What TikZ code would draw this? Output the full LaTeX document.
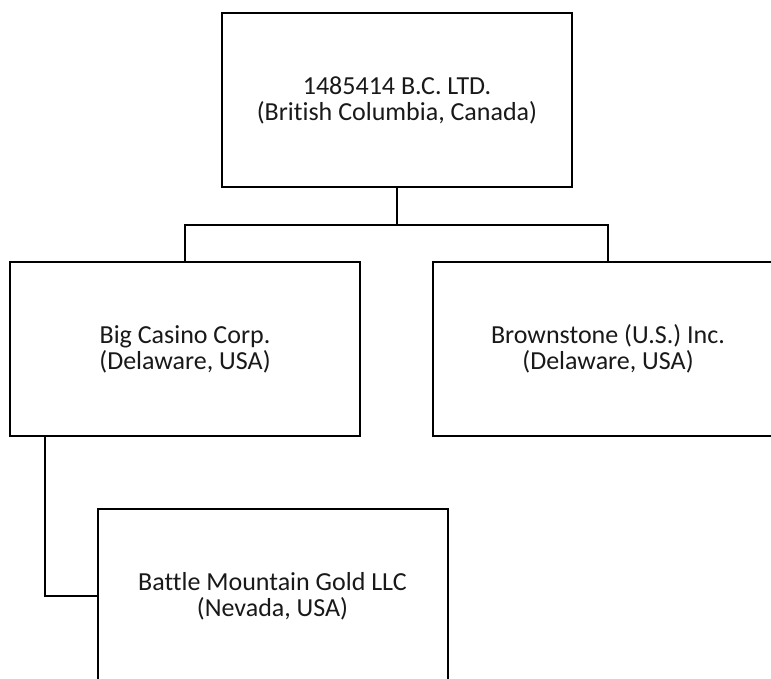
\documentclass[tikz,border=0pt]{standalone}
\usepackage{fontspec}
\setmainfont{Carlito}[Ligatures={NoCommon}]
\begin{document}
\begin{tikzpicture}[x=1pt,y=1pt,
  ent/.style={draw=black, line width=2pt, rectangle, minimum width=350pt, minimum height=174pt,
    align=center, inner sep=0pt, font=\fontsize{26}{26}\selectfont, text=black!90},
  conn/.style={draw=black, line width=2pt}]
\useasboundingbox (0,0) rectangle (771,-678);
\clip (0,0) rectangle (771,-678);
\fill[white] (0,0) rectangle (771,-678);
\node[ent] (top) at (397,-100) {1485414 B.C. LTD.\\(British Columbia, Canada)};
\node[ent] (big) at (185,-349) {Big Casino Corp.\\(Delaware, USA)};
\node[ent] (brown) at (608,-349) {Brownstone (U.S.) Inc.\\(Delaware, USA)};
\node[ent] (bmg) at (272.5,-596) {Battle Mountain Gold LLC\\(Nevada, USA)};
\coordinate (j) at (397,-225);
\draw[conn] (top.south) -- (j);
\draw[conn] (j) -| (big.north);
\draw[conn] (j) -| (brown.north);
\coordinate (k) at ([xshift=-140pt]big.south);
\draw[conn] (k) |- (bmg.west);
\end{tikzpicture}
\end{document}
